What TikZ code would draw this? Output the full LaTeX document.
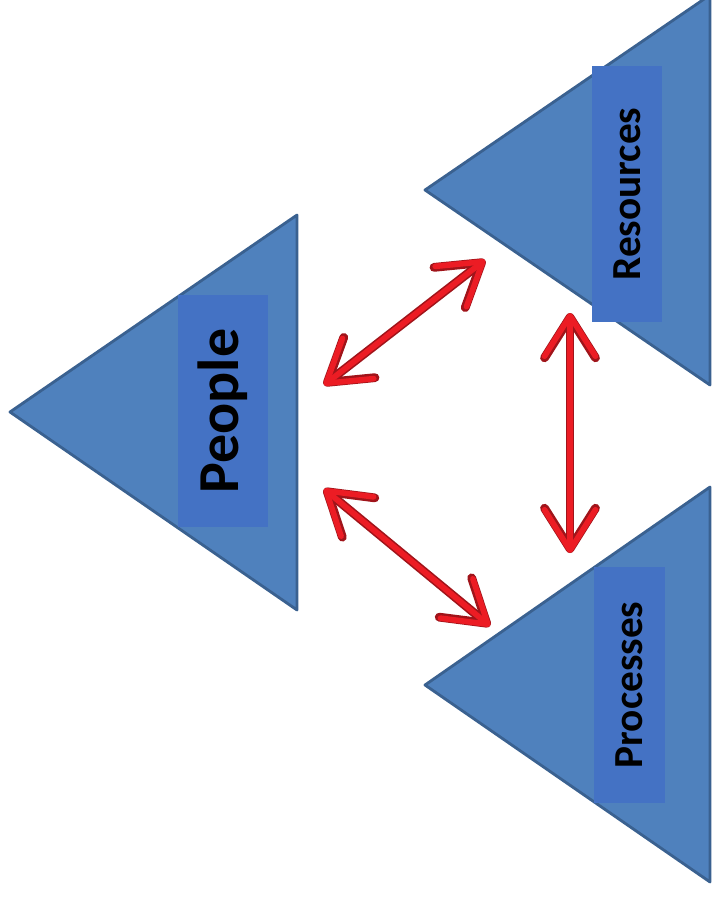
\documentclass[tikz,border=0pt]{standalone}
\usepackage{fontspec}
\setmainfont{Carlito}
\usetikzlibrary{arrows.meta}
\definecolor{tri}{HTML}{4F81BD}
\definecolor{triline}{HTML}{3A6190}
\definecolor{box}{HTML}{4472C4}
\definecolor{arr}{HTML}{EC1C24}
\definecolor{arrdark}{HTML}{A0141A}
\tikzset{>={Straight Barb[length=23pt,width=29pt,round]}}

\begin{document}
\begin{tikzpicture}[x=0.02cm, y=-0.02cm,
    tri/.style={fill=tri, draw=triline, line width=1.6pt, line join=round},
    lbl/.style={fill=box, rotate=90, inner sep=0pt},
    link/.style={<->, draw=arrdark, line width=5pt, line cap=round,
      postaction={draw=arr, line width=3.2pt}}]
    \useasboundingbox (0,0) rectangle (713,897);
    \clip (0,0) rectangle (713,897);

    % the three triangles
    \draw[tri] (10,412) -- (297,215) -- (297,610) -- cycle;
    \draw[tri] (425,190) -- (710,-5) -- (710,385) -- cycle;
    \draw[tri] (425,685) -- (710,487) -- (710,882) -- cycle;

    \node at (223,411) (people) [lbl, minimum width=4.64cm, minimum height=1.8cm, font=\fontsize{33}{36}\selectfont\bfseries] {People};
    \node at (627,194) (resources) [lbl, minimum width=5.12cm, minimum height=1.4cm, font=\fontsize{23.5}{26}\selectfont\bfseries] {Resources};
    \node at (629.5,685) (processes) [lbl, minimum width=4.72cm, minimum height=1.42cm, font=\fontsize{23.5}{26}\selectfont\bfseries] {Processes};

    \coordinate (pr) at (324,385);
    \coordinate (rp) at (485,260);
    \coordinate (pp) at (324,489);
    \coordinate (qp) at (490,626);
    \coordinate (rq) at (570,313);
    \coordinate (qr) at (570,553);

    \path[link] (pr) -- (rp);
    \path[link] (pp) -- (qp);
    \path[link] (rq) -- (qr);
\end{tikzpicture}
\end{document}
